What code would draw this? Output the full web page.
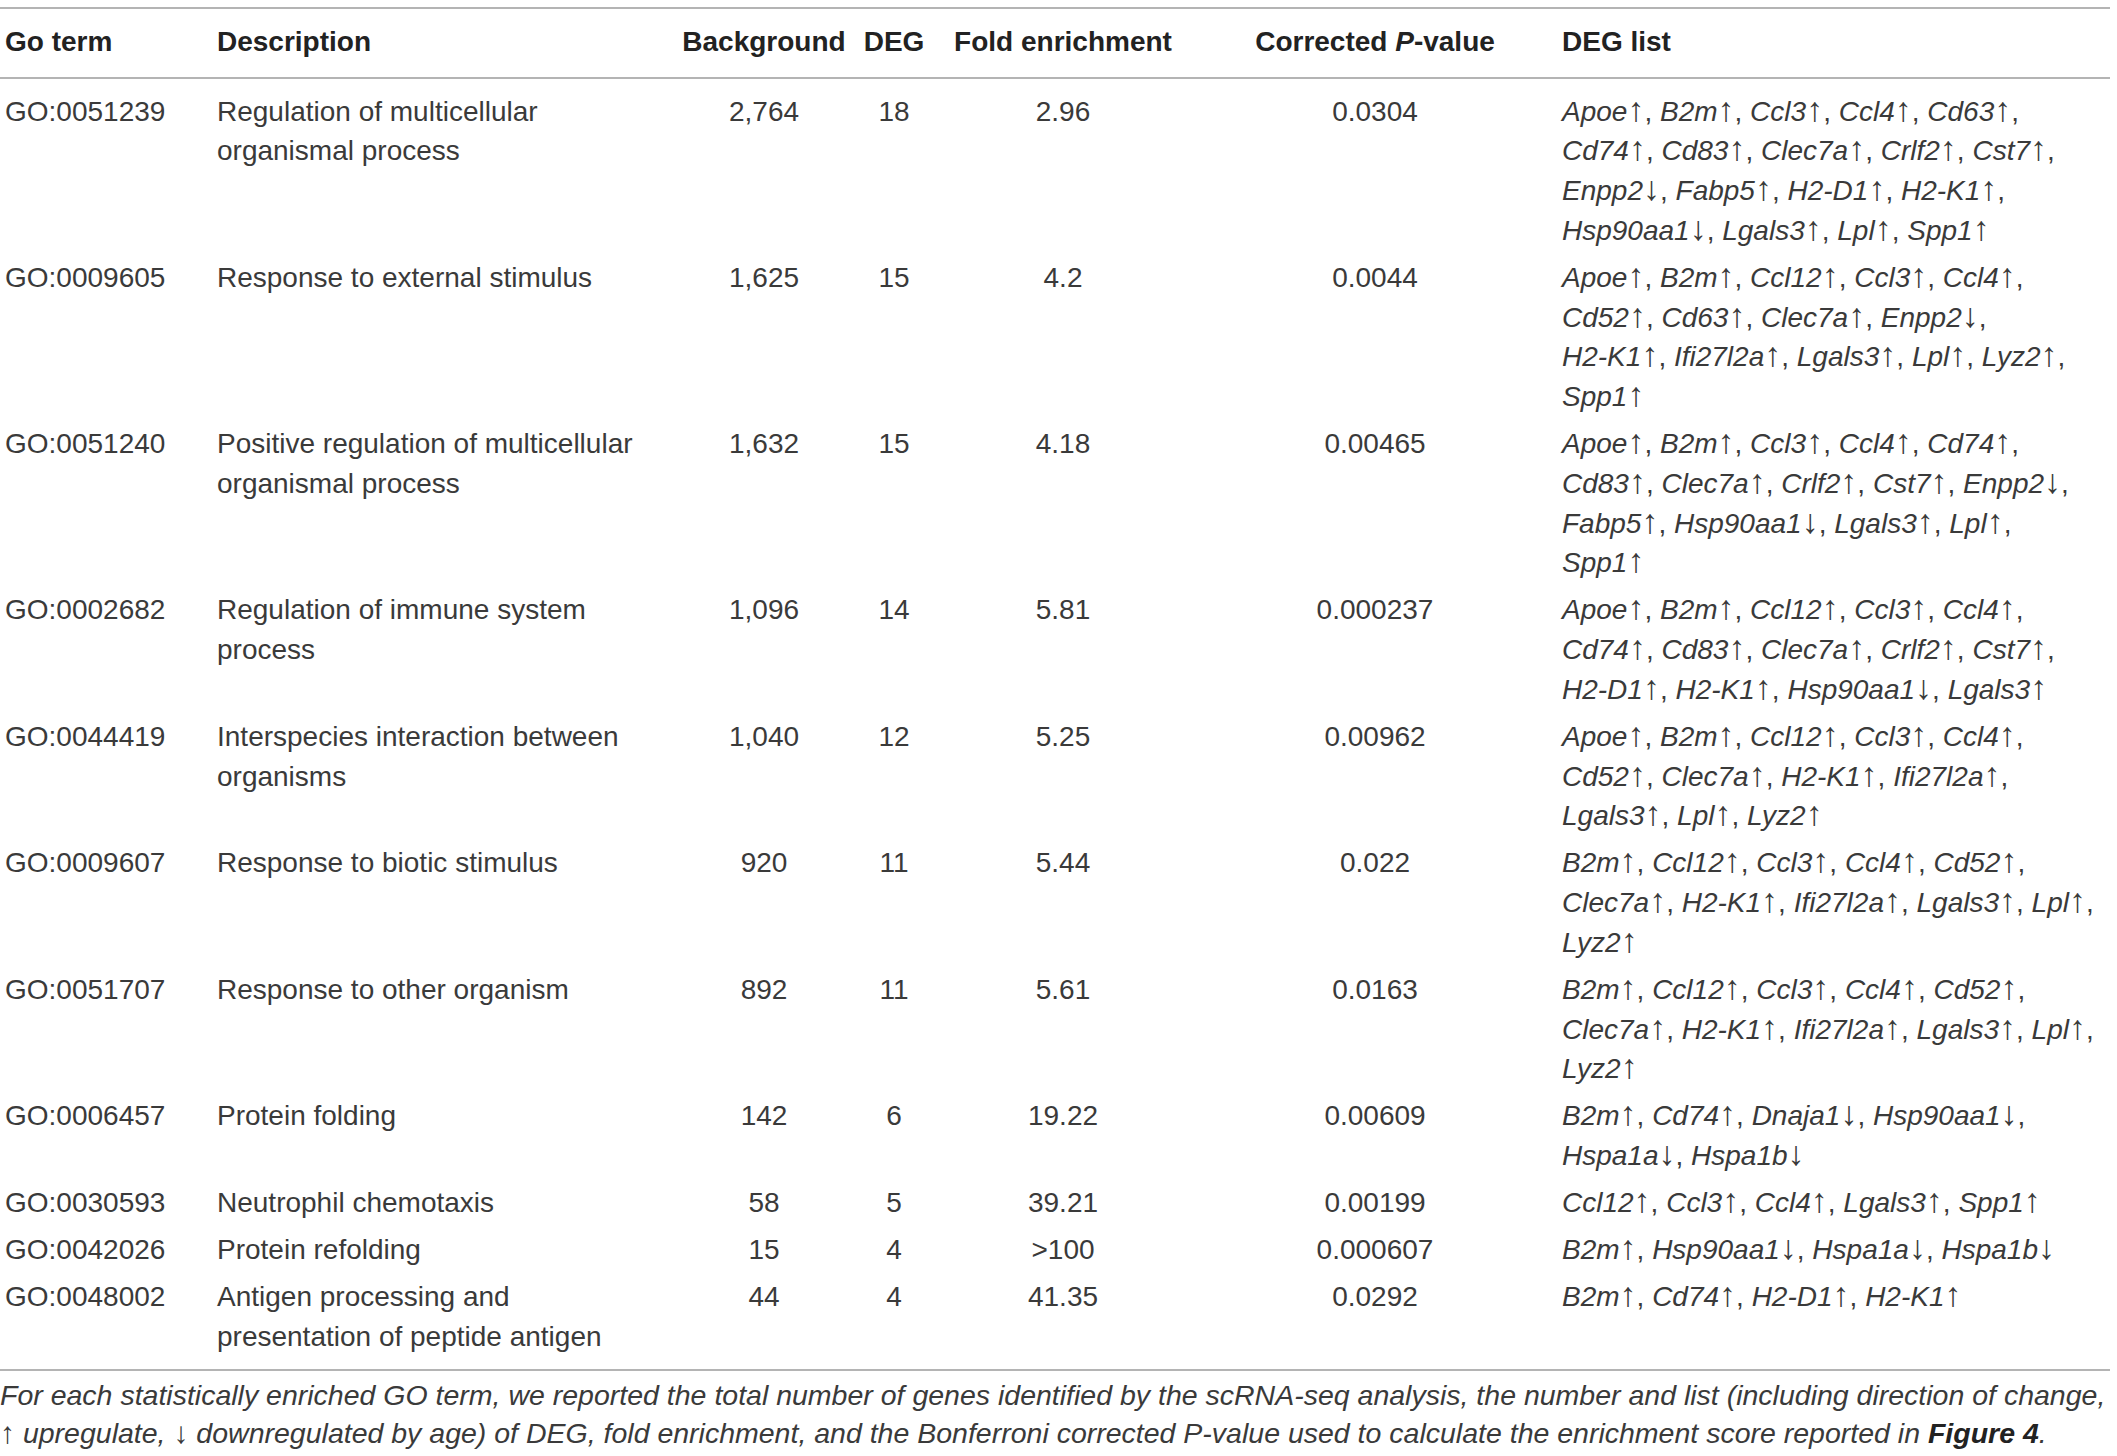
<!DOCTYPE html>
<html>
<head>
<meta charset="utf-8">
<script src="https://cdn.jsdelivr.net/npm/chart.js@4.4.1/dist/chart.umd.min.js"></script>
<style>
  html, body { margin: 0; padding: 0; background: #fff; }
  body { width: 2117px; height: 1456px; overflow: hidden; font-family: "Liberation Sans", Arial, sans-serif; color: #3a3a3a; }
  #wrap { position: absolute; left: 0; top: 7px; width: 2110px; }
  table { border-collapse: collapse; table-layout: fixed; width: 2110px; font-size: 28px; line-height: 39.7px; }
  thead tr { border-top: 2px solid #b4b4b4; border-bottom: 2px solid #b4b4b4; }
  th { font-weight: 700; padding: 13px 0 15px 0; white-space: nowrap; color: #222; }
  td { padding: 0 0 7.4px 0; vertical-align: top; white-space: nowrap; }
  tbody tr:first-child td { padding-top: 13px; }
  tbody tr:last-child td { padding-bottom: 12px; }
  tbody tr:last-child { border-bottom: 2px solid #b4b4b4; }
  .l { text-align: left; padding-left: 5px; }
  .c { text-align: center; }
  .g { text-align: left; padding-left: 2px; }
  .g i { font-style: italic; }
  .arr { font-style: normal; font-size: 34px; line-height: 0; }
  #note { position: absolute; left: 0; top: 1376px; font-style: italic; font-size: 25px; line-height: 38px; color: #3a3a3a; white-space: nowrap; }
  #note .arr { font-size: 30px; }
  #note b { font-weight: 700; color: #222; }
</style>
</head>
<body>
<div id="wrap"></div>
<div id="note"></div>
<script>
const headers = ["Go term", "Description", "Background", "DEG", "Fold enrichment", "Corrected <i>P</i>-value", "DEG list"];
const colWidths = [212, 464, 176, 84, 254, 370, 550];
const colAlign = ["l", "l", "c", "c", "c", "c", "g"];

const goTerms = ["GO:0051239", "GO:0009605", "GO:0051240", "GO:0002682", "GO:0044419", "GO:0009607", "GO:0051707", "GO:0006457", "GO:0030593", "GO:0042026", "GO:0048002"];

const descriptions = [
  ["Regulation of multicellular", "organismal process"],
  ["Response to external stimulus"],
  ["Positive regulation of multicellular", "organismal process"],
  ["Regulation of immune system", "process"],
  ["Interspecies interaction between", "organisms"],
  ["Response to biotic stimulus"],
  ["Response to other organism"],
  ["Protein folding"],
  ["Neutrophil chemotaxis"],
  ["Protein refolding"],
  ["Antigen processing and", "presentation of peptide antigen"],
];

const background = ["2,764", "1,625", "1,632", "1,096", "1,040", "920", "892", "142", "58", "15", "44"];
const deg = [18, 15, 15, 14, 12, 11, 11, 6, 5, 4, 4];
const foldEnrichment = ["2.96", "4.2", "4.18", "5.81", "5.25", "5.44", "5.61", "19.22", "39.21", ">100", "41.35"];
const correctedP = ["0.0304", "0.0044", "0.00465", "0.000237", "0.00962", "0.022", "0.0163", "0.00609", "0.00199", "0.000607", "0.0292"];

// each gene carries its direction: "u" = up, "d" = down; inner arrays are printed lines
const degLists = [
  [["Apoe u", "B2m u", "Ccl3 u", "Ccl4 u", "Cd63 u"], ["Cd74 u", "Cd83 u", "Clec7a u", "Crlf2 u", "Cst7 u"], ["Enpp2 d", "Fabp5 u", "H2-D1 u", "H2-K1 u"], ["Hsp90aa1 d", "Lgals3 u", "Lpl u", "Spp1 u"]],
  [["Apoe u", "B2m u", "Ccl12 u", "Ccl3 u", "Ccl4 u"], ["Cd52 u", "Cd63 u", "Clec7a u", "Enpp2 d"], ["H2-K1 u", "Ifi27l2a u", "Lgals3 u", "Lpl u", "Lyz2 u"], ["Spp1 u"]],
  [["Apoe u", "B2m u", "Ccl3 u", "Ccl4 u", "Cd74 u"], ["Cd83 u", "Clec7a u", "Crlf2 u", "Cst7 u", "Enpp2 d"], ["Fabp5 u", "Hsp90aa1 d", "Lgals3 u", "Lpl u"], ["Spp1 u"]],
  [["Apoe u", "B2m u", "Ccl12 u", "Ccl3 u", "Ccl4 u"], ["Cd74 u", "Cd83 u", "Clec7a u", "Crlf2 u", "Cst7 u"], ["H2-D1 u", "H2-K1 u", "Hsp90aa1 d", "Lgals3 u"]],
  [["Apoe u", "B2m u", "Ccl12 u", "Ccl3 u", "Ccl4 u"], ["Cd52 u", "Clec7a u", "H2-K1 u", "Ifi27l2a u"], ["Lgals3 u", "Lpl u", "Lyz2 u"]],
  [["B2m u", "Ccl12 u", "Ccl3 u", "Ccl4 u", "Cd52 u"], ["Clec7a u", "H2-K1 u", "Ifi27l2a u", "Lgals3 u", "Lpl u"], ["Lyz2 u"]],
  [["B2m u", "Ccl12 u", "Ccl3 u", "Ccl4 u", "Cd52 u"], ["Clec7a u", "H2-K1 u", "Ifi27l2a u", "Lgals3 u", "Lpl u"], ["Lyz2 u"]],
  [["B2m u", "Cd74 u", "Dnaja1 d", "Hsp90aa1 d"], ["Hspa1a d", "Hspa1b d"]],
  [["Ccl12 u", "Ccl3 u", "Ccl4 u", "Lgals3 u", "Spp1 u"]],
  [["B2m u", "Hsp90aa1 d", "Hspa1a d", "Hspa1b d"]],
  [["B2m u", "Cd74 u", "H2-D1 u", "H2-K1 u"]],
];

const footnote = [
  "For each statistically enriched GO term, we reported the total number of genes identified by the scRNA-seq analysis, the number and list (including direction of change,",
  "<span class='arr'>↑</span> upregulate, <span class='arr'>↓</span> downregulated by age) of DEG, fold enrichment, and the Bonferroni corrected P-value used to calculate the enrichment score reported in <b>Figure 4</b>.",
];

function gene(g) {
  const [name, dir] = g.split(" ");
  return "<i>" + name + "</i><span class='arr'>" + (dir === "u" ? "↑" : "↓") + "</span>";
}

let html = "<table><colgroup>";
colWidths.forEach(w => { html += `<col style="width:${w}px">`; });
html += "</colgroup><thead><tr>";
headers.forEach((h, i) => { html += `<th class="${colAlign[i]}">${h}</th>`; });
html += "</tr></thead><tbody>";

for (let i = 0; i < goTerms.length; i++) {
  const lines = degLists[i].map((line, j) =>
    line.map(gene).join(", ") + (j < degLists[i].length - 1 ? "," : "")
  );
  const cells = [goTerms[i], descriptions[i].join("<br>"), background[i], deg[i], foldEnrichment[i], correctedP[i], lines.join("<br>")];
  html += "<tr>";
  cells.forEach((c, k) => { html += `<td class="${colAlign[k]}">${c}</td>`; });
  html += "</tr>";
}
html += "</tbody></table>";

document.getElementById("wrap").innerHTML = html;

// footnote: first line runs the full width of the table in the reference
const note = document.getElementById("note");
note.innerHTML = footnote.join("<br>");
const probe = document.createElement("span");
probe.style.cssText = "position:absolute;visibility:hidden;white-space:nowrap;font-style:italic;font-size:25px";
probe.textContent = footnote[0];
document.body.appendChild(probe);
note.style.fontSize = (25 * 2106 / probe.getBoundingClientRect().width).toFixed(2) + "px";
probe.remove();
</script>
</body>
</html>
